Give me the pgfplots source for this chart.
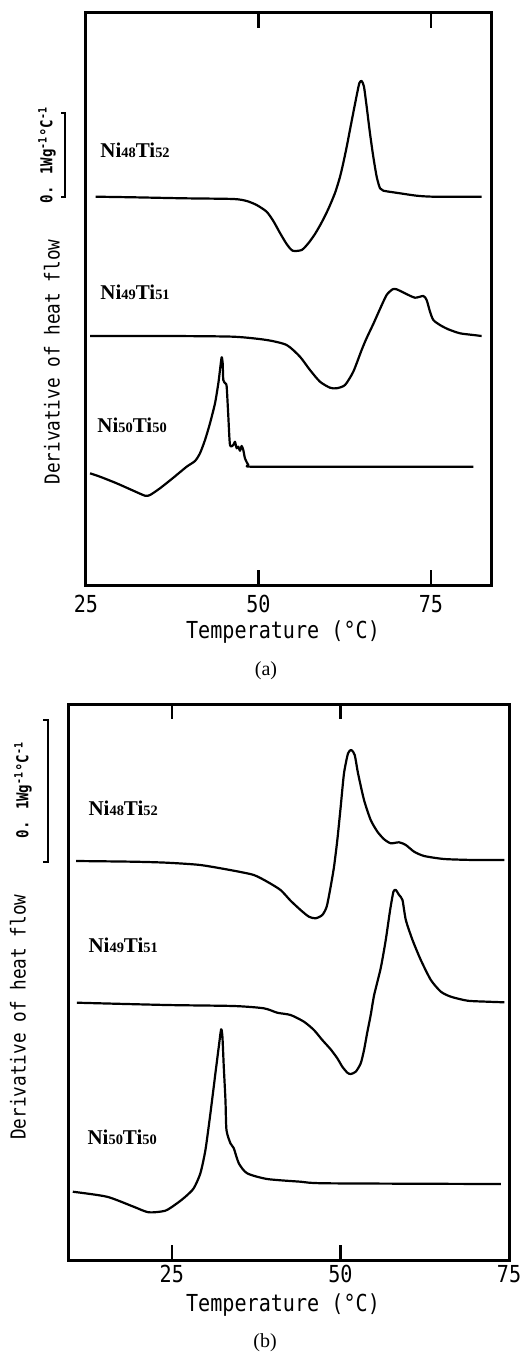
\documentclass[border=0pt]{standalone}
\usepackage{fontspec}
\setmainfont{Liberation Serif}
\newfontfamily\axfont[FakeStretch=0.86]{DejaVu Sans Mono}
\usepackage{pgfplots}
\pgfplotsset{compat=1.18}

% sample label: Ni_xTi_y with small digits on the baseline
\newcommand\ntl[2]{\textbf{Ni{\fontsize{7.2}{8}\selectfont #1}Ti{\fontsize{7.2}{8}\selectfont #2}}}
\newcommand\scl{{\axfont\bfseries\fontsize{8.2}{9}\selectfont 0. 1Wg\textsuperscript{-1}°C\textsuperscript{-1}}}

\pgfplotsset{
  crv/.style={black, line width=1.1pt, line join=round, smooth, tension=0.4, mark=none},
  dsc/.style={
    scale only axis, anchor=south west, clip=false,
    axis line style={line width=1.5pt},
    tick align=inside, major tick length=7.5pt,
    every tick/.style={black, line width=1.2pt},
    ytick=\empty, xtick={25,50,75}, xticklabels={25,50,75},
    xticklabel style={font=\axfont\fontsize{11.7}{12}\selectfont},
    /pgf/number format/assume math mode=true,
    ymin=0,
  }}

\begin{document}
\begin{tikzpicture}
\path[use as bounding box] (0,0) rectangle (262.5pt,-676pt);

% ---------------- (a) ----------------
\begin{axis}[dsc, at={(43pt,-292.5pt)}, width=202.5pt, height=286pt,
  xmin=25, xmax=83.7, ymax=572,
  xticklabel style={yshift=-1.5pt}]
% Ni48Ti52
\addplot[crv] coordinates {
(26.40,388.3) (31.86,387.7) (39.11,386.7) (46.35,386.0) (48.29,384.0)
(49.73,380.0) (51.18,373.3) (52.15,364.0) (53.12,352.0) (54.08,341.0)
(54.95,334.3) (56.26,335.0) (57.22,341.7) (58.19,351.0) (59.15,362.5)
(60.12,376.0) (61.09,392.0) (61.81,408.0) (62.29,422.0) (62.78,438.0)
(63.45,462.0) (64.13,486.0) (64.61,501.7) (64.95,504.0) (65.29,498.3)
(65.68,478.3) (66.16,451.7) (66.64,428.3) (67.13,408.3) (67.61,396.7)
(68.09,394.3) (70.51,391.7) (72.92,389.3) (75.34,388.3) (82.34,388.3)
};
% Ni49Ti51
\addplot[crv] coordinates {
(25.58,249.0) (36.69,249.0) (46.35,248.3) (51.18,245.0) (54.08,240.0)
(56.01,228.3) (57.46,215.0) (58.91,203.3) (60.36,197.3) (61.33,196.7)
(62.54,200.0) (63.74,213.3) (64.95,235.0) (65.68,247.0) (66.64,261.0)
(67.61,276.0) (68.57,290.0) (69.44,295.7) (70.02,295.7) (71.23,291.7)
(72.68,287.3) (73.89,289.0) (74.37,285.0) (74.86,273.3) (75.34,265.0)
(76.30,260.0) (77.51,255.7) (79.20,251.7) (81.14,250.0) (82.34,249.0)
};
% Ni50Ti50
\addplot[crv] coordinates {
(25.58,111.7) (27.03,108.3) (29.44,101.7) (31.86,94.3) (33.55,89.3)
(34.28,90.0) (35.72,96.7) (37.66,107.3) (39.59,118.3) (40.80,124.0)
(41.52,131.7) (42.25,145.0) (42.97,161.7) (43.70,181.7) (44.18,201.7)
(44.42,215.0) (44.66,227.7) (44.81,221.7) (44.90,205.0) (45.19,201.7)
(45.39,198.3) (45.63,168.3) (45.87,140.0) (46.35,140.0) (46.59,143.3)
(46.84,136.7) (47.08,138.3) (47.32,134.3) (47.56,139.0) (47.80,135.0)
(48.04,126.7) (48.53,120.0) (49.01,118.3) (60.85,118.3) (81.14,118.3)
};
\node[anchor=west, inner sep=0, font=\fontsize{10.5}{12}\selectfont] at (axis cs:27.03,435) {\ntl{48}{52}};
\node[anchor=west, inner sep=0, font=\fontsize{10.5}{12}\selectfont] at (axis cs:27.03,293) {\ntl{49}{51}};
\node[anchor=west, inner sep=0, font=\fontsize{10.5}{12}\selectfont] at (axis cs:26.60,160) {\ntl{50}{50}};
\draw[line width=1pt] (axis cs:21.38,472) -- (axis cs:21.96,472) -- (axis cs:21.96,388) -- (axis cs:21.38,388);
\end{axis}

\node[rotate=90] at (23.5pt,-77.5pt) {\scl};
\node[rotate=90, font=\axfont\fontsize{10.3}{12}\selectfont] at (26pt,-181pt) {Derivative of heat flow};
\node[font=\axfont\fontsize{11.7}{13}\selectfont] at (141.5pt,-316pt) {Temperature (°C)};
\node[font=\fontsize{10}{12}\selectfont] at (133pt,-335.5pt) {(a)};

% ---------------- (b) ----------------
\begin{axis}[dsc, at={(34pt,-630pt)}, width=220.5pt, height=278pt,
  xmin=9.6, xmax=75, ymax=556,
  xticklabel style={yshift=1pt}]
% Ni48Ti52
\addplot[crv] coordinates {
(10.81,399.0) (19.33,398.3) (24.28,397.3) (29.23,395.0) (34.19,389.3)
(37.16,385.0) (39.14,378.3) (41.12,370.0) (42.61,359.3) (44.09,350.0)
(45.33,343.3) (46.32,341.7) (47.31,345.0) (47.96,353.3) (48.55,373.3)
(49.05,393.3) (49.54,420.0) (50.04,453.3) (50.53,486.7) (51.13,506.7)
(51.62,510.0) (52.12,505.0) (52.61,486.7) (53.50,460.0) (54.49,440.0)
(55.49,428.3) (56.48,420.7) (57.47,416.7) (58.70,417.7) (59.70,415.0)
(60.93,408.3) (62.42,404.0) (65.39,401.0) (69.85,400.0) (74.31,400.0)
};
% Ni49Ti51
\addplot[crv] coordinates {
(10.91,257.3) (24.28,255.0) (34.19,254.0) (38.65,251.7) (40.63,247.3)
(42.61,245.0) (44.59,238.3) (46.07,230.0) (47.31,220.0) (48.55,210.7)
(49.54,201.7) (50.28,193.3) (51.03,187.3) (51.52,186.0) (52.27,188.3)
(53.01,196.7) (53.50,210.0) (54.00,228.3) (54.49,245.0) (55.00,265.0)
(55.98,292.0) (56.72,320.0) (57.37,350.0) (57.86,368.3)
(58.21,370.0) (58.70,365.0) (59.20,360.0) (59.70,340.0) (60.69,320.0)
(61.92,300.0) (63.41,280.0) (64.90,268.3) (66.38,263.3) (68.86,259.3)
(71.83,258.3) (74.31,257.7)
};
% Ni50Ti50
\addplot[crv] coordinates {
(10.31,68.3) (15.37,63.3) (19.33,53.3) (21.56,47.7) (24.03,49.3)
(25.77,56.7) (27.01,63.3) (28.24,71.7) (29.23,86.7) (29.98,110.0)
(30.72,146.7) (31.46,186.7) (31.96,213.3) (32.31,230.7) (32.50,223.3)
(32.70,193.3) (32.95,160.0) (33.10,130.0) (33.69,116.7) (34.19,111.7)
(34.93,96.7) (36.17,86.7) (39.14,81.0) (44.09,78.3) (48.06,76.7)
(73.81,76.0)
};
\node[anchor=west, inner sep=0, font=\fontsize{10.5}{12}\selectfont] at (axis cs:12.59,452) {\ntl{48}{52}};
\node[anchor=west, inner sep=0, font=\fontsize{10.5}{12}\selectfont] at (axis cs:12.59,315) {\ntl{49}{51}};
\node[anchor=west, inner sep=0, font=\fontsize{10.5}{12}\selectfont] at (axis cs:12.44,123) {\ntl{50}{50}};
\draw[line width=1pt] (axis cs:5.9,540) -- (axis cs:6.65,540) -- (axis cs:6.65,398) -- (axis cs:5.9,398);
\end{axis}

\node[rotate=90] at (11.5pt,-395pt) {\scl};
\node[rotate=90, font=\axfont\fontsize{10.3}{12}\selectfont] at (9pt,-508.5pt) {Derivative of heat flow};
\node[font=\axfont\fontsize{11.7}{13}\selectfont] at (141.5pt,-652.5pt) {Temperature (°C)};
\node[font=\fontsize{10}{12}\selectfont] at (132.5pt,-671.5pt) {(b)};
\end{tikzpicture}
\end{document}
